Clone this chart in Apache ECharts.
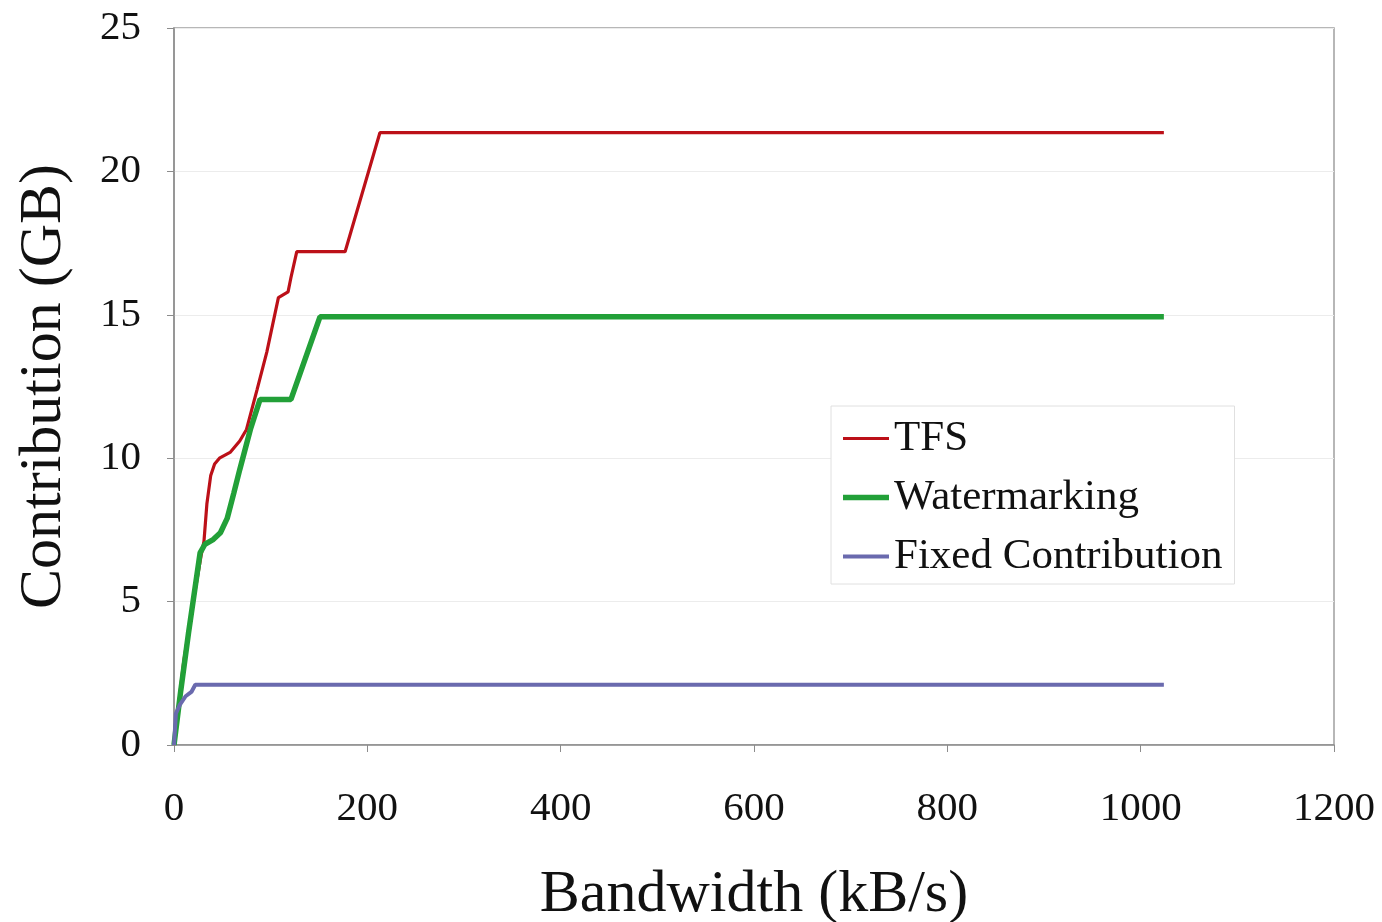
<!DOCTYPE html>
<html>
<head>
<meta charset="utf-8">
<script src="https://cdn.jsdelivr.net/npm/echarts@6/dist/echarts.min.js"></script>
<style>
  html, body { margin: 0; padding: 0; background: #fff; }
  #chart { width: 1382px; height: 922px; }
</style>
</head>
<body>
<div id="chart"></div>
<script>
  // values (bandwidth kB/s -> contribution GB)
  var seriesNames = ['TFS', 'Watermarking', 'Fixed Contribution'];

  var tfsX = [0, 4, 10, 20, 28, 31, 34, 38, 42, 47, 58, 68, 75, 86, 96, 108, 118, 121, 127, 177, 213, 1024];
  var tfsY = [0, 1.2, 2.9, 5.0, 6.6, 7.1, 8.4, 9.4, 9.8, 10.0, 10.2, 10.6, 11.0, 12.4, 13.7, 15.6, 15.8, 16.3, 17.2, 17.2, 21.35, 21.35];

  var wmX = [0, 7, 15, 27, 32, 40, 48, 55, 62, 68, 79, 89, 121, 151, 1024];
  var wmY = [0, 1.9, 3.9, 6.7, 7.0, 7.15, 7.4, 7.9, 8.8, 9.6, 11.0, 12.05, 12.05, 14.93, 14.93];

  var fixX = [0, 2, 6, 12, 18, 22, 1024];
  var fixY = [0, 1.1, 1.4, 1.7, 1.85, 2.1, 2.1];

  var xTicks = [0, 200, 400, 600, 800, 1000, 1200];
  var yTicks = [0, 5, 10, 15, 20, 25];

  function pairs(xs, ys) {
    var out = [];
    for (var i = 0; i < xs.length; i++) {
      out.push([xs[i], ys[i]]);
    }
    return out;
  }

  var font = '"Liberation Serif", "DejaVu Serif", serif';
  var colors = ['#bc1018', '#22a038', '#6a6aae'];
  var widths = [3.2, 5.5, 4];

  // legend swatch: a plain bar as thick as the series line
  function legendItem(i) {
    return {
      name: seriesNames[i],
      icon: 'path://M0,0 L46,0 L46,' + widths[i] + ' L0,' + widths[i] + ' Z',
      itemStyle: { color: colors[i] }
    };
  }

  var myChart = echarts.init(document.getElementById('chart'));

  var option = {
    backgroundColor: '#fff',
    animation: false,
    grid: {
      left: 174,
      right: 48,
      top: 28,
      bottom: 177,
      outerBoundsMode: 'none',
      containLabel: false,
      show: true,
      borderColor: '#a0a0a0',
      borderWidth: 1.5
    },
    legend: {
      orient: 'vertical',
      left: 831,
      top: 406,
      padding: [11, 12, 6, 12],
      itemGap: 16,
      itemWidth: 46,
      itemHeight: 14,
      symbolKeepAspect: true,
      backgroundColor: '#fff',
      borderColor: '#e0e0e0',
      borderWidth: 1,
      textStyle: {
        fontFamily: font,
        fontSize: 43,
        color: '#111',
        padding: [0, 0, 0, 0]
      },
      data: [legendItem(0), legendItem(1), legendItem(2)]
    },
    xAxis: {
      type: 'value',
      min: xTicks[0],
      max: xTicks[xTicks.length - 1],
      interval: 200,
      name: 'Bandwidth (kB/s)',
      nameLocation: 'middle',
      nameGap: 120,
      nameTextStyle: { fontFamily: font, fontSize: 60, color: '#111' },
      axisLine: { show: true, onZero: false, lineStyle: { color: '#8c8c8c', width: 1.5 } },
      axisTick: { show: true, length: 7, lineStyle: { color: '#8c8c8c' } },
      axisLabel: {
        fontFamily: font, fontSize: 41, color: '#111', margin: 44,
        formatter: function (v) { return String(v); }
      },
      splitLine: { show: false }
    },
    yAxis: {
      type: 'value',
      min: yTicks[0],
      max: yTicks[yTicks.length - 1],
      interval: 5,
      name: 'Contribution (GB)',
      nameLocation: 'middle',
      nameGap: 100,
      nameTextStyle: { fontFamily: font, fontSize: 60, color: '#111' },
      axisLine: { show: true, lineStyle: { color: '#8c8c8c', width: 1.5 } },
      axisTick: { show: true, length: 7, lineStyle: { color: '#8c8c8c' } },
      axisLabel: {
        fontFamily: font, fontSize: 41, color: '#111', margin: 33,
        formatter: function (v) { return String(v); }
      },
      splitLine: { show: true, lineStyle: { color: '#ececec', width: 1 } }
    },
    series: [0, 1, 2].map(function (i) {
      var xs = [tfsX, wmX, fixX][i];
      var ys = [tfsY, wmY, fixY][i];
      return {
        name: seriesNames[i],
        type: 'line',
        symbol: 'none',
        color: colors[i],
        lineStyle: { color: colors[i], width: widths[i] },
        data: pairs(xs, ys)
      };
    })
  };
  myChart.setOption(option);
</script>
</body>
</html>
